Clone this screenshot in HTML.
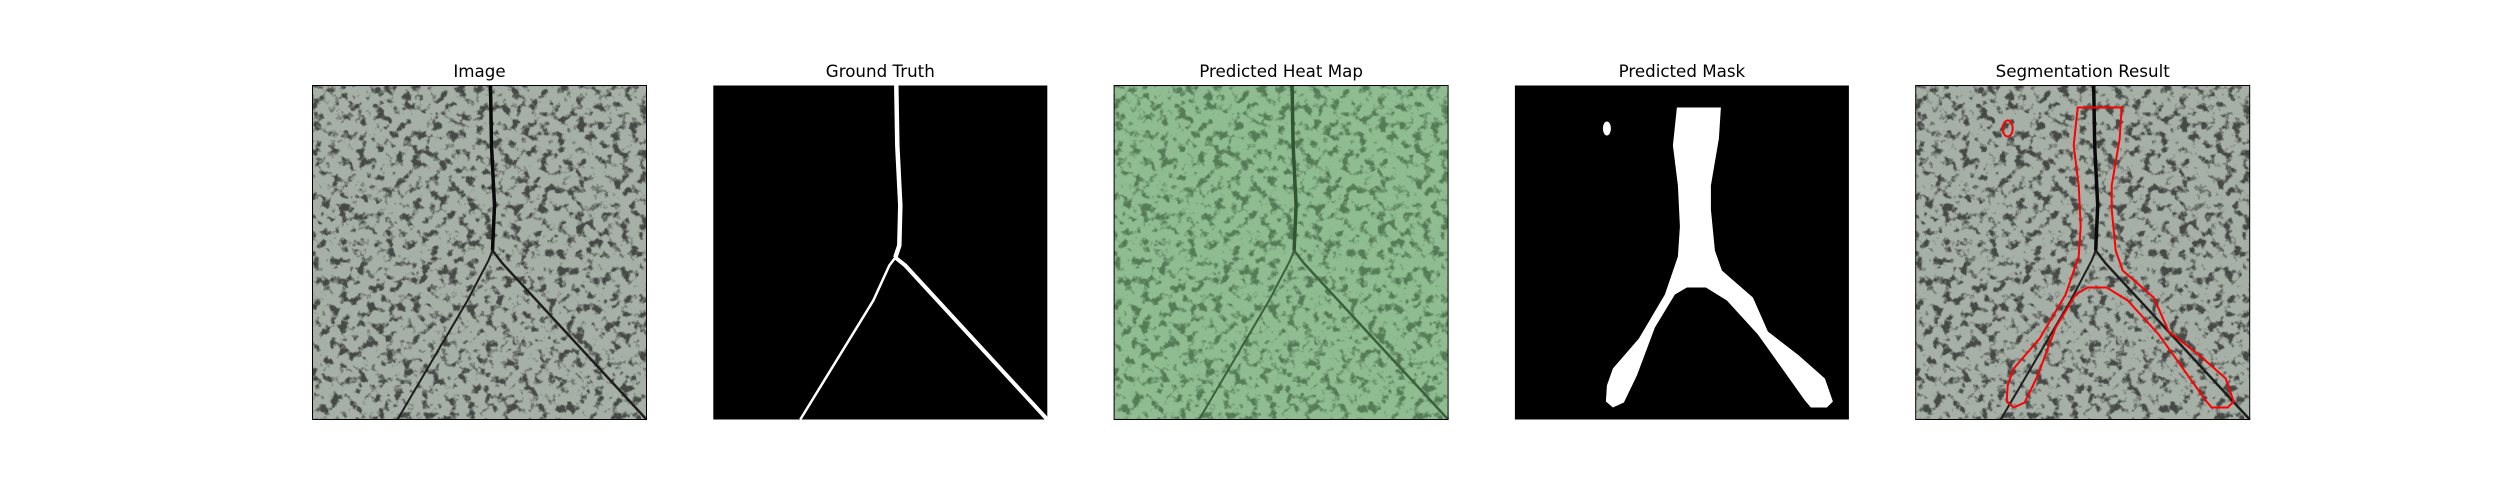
<!DOCTYPE html>
<html><head><meta charset="utf-8"><style>
html,body{margin:0;padding:0;background:#fff}
svg{display:block}
text{font-family:"DejaVu Sans","Liberation Sans",sans-serif;font-size:16.7px;fill:#000}
</style></head><body>
<svg width="2500" height="500" viewBox="0 0 2500 500" xmlns="http://www.w3.org/2000/svg">
<defs>
<filter id="spots" x="0" y="0" width="100%" height="100%">
<feTurbulence type="fractalNoise" baseFrequency="0.11" numOctaves="3" seed="7" result="n"/>
<feColorMatrix in="n" type="matrix" values="0 0 0 0 0  0 0 0 0 0  0 0 0 0 0  1 0 0 0 0" result="a"/>
<feComponentTransfer in="a" result="t"><feFuncA type="linear" slope="6" intercept="-3.1"/></feComponentTransfer>
<feFlood flood-color="#474a46"/>
<feComposite in2="t" operator="in"/>
</filter>
<g id="texture">
<rect x="0" y="0" width="334" height="334" fill="#a7b0a7"/>
<rect x="0" y="0" width="334" height="334" filter="url(#spots)"/>
<path d="M178,0 L179,60 L182,120 L180,165 L176,175 L155,215 L85,334" fill="none" stroke="#1e1e1c" stroke-width="2"/>
<path d="M178,0 L179,60 L182,120 L180,165" fill="none" stroke="#0a0a0a" stroke-width="3.5"/>
<path d="M180,165 L190,178 L334,334" fill="none" stroke="#1e1e1c" stroke-width="2.5"/>
</g>
<path id="maskshape" d="M162,22 L206,22 L204,53 L196,100 L196,124 L200,165 L207,185 L238,212 L253,246 L284,270 L310,293 L318,316 L312,322 L296,322 L290,315 L258,270 L243,249 L212,215 L191,202 L172,202 L160,209 L140,242 L122,290 L109,317 L98,322 L91,316 L92,300 L98,283 L124,253 L150,209 L163,171 L165,141 L163,100 L158,60 Z"/>
</defs>

<g transform="translate(312.5,85.5)">
<use href="#texture"/>
<rect x="0" y="0" width="334" height="334" fill="none" stroke="#000" stroke-width="1"/>
</g>
<text x="479.5" y="77" text-anchor="middle">Image</text>

<g transform="translate(713.3,85.5)">
<rect x="0" y="0" width="334" height="334" fill="#000"/>
<path d="M183,0 L184,60 L187,120 L186,160 L182,172 L176,180 L160,215 L87,334" fill="none" stroke="#fff" stroke-width="2.5"/>
<path d="M183,0 L184,60 L187,120 L186,160 L182,172" fill="none" stroke="#fff" stroke-width="4.5"/>
<path d="M182,172 L192,180 L334,334" fill="none" stroke="#fff" stroke-width="4"/>
</g>
<text x="880.3" y="77" text-anchor="middle">Ground Truth</text>

<g transform="translate(1114.1,85.5)">
<use href="#texture"/>
<rect x="0" y="0" width="334" height="334" fill="#6cd070" opacity="0.38"/>
<rect x="0" y="0" width="334" height="334" fill="none" stroke="#000" stroke-width="1"/>
</g>
<text x="1281.1" y="77" text-anchor="middle">Predicted Heat Map</text>

<g transform="translate(1514.9,85.5)">
<rect x="0" y="0" width="334" height="334" fill="#000"/>
<use href="#maskshape" fill="#fff"/>
<ellipse cx="92" cy="43" rx="4" ry="7" fill="#fff"/>
</g>
<text x="1681.9" y="77" text-anchor="middle">Predicted Mask</text>

<g transform="translate(1915.7,85.5)">
<use href="#texture"/>
<use href="#maskshape" fill="none" stroke="#ff0000" stroke-width="2"/>
<ellipse cx="92" cy="43" rx="5" ry="8" fill="none" stroke="#ff0000" stroke-width="2"/>
<rect x="0" y="0" width="334" height="334" fill="none" stroke="#000" stroke-width="1"/>
</g>
<text x="2082.7" y="77" text-anchor="middle">Segmentation Result</text>
</svg>
</body></html>
